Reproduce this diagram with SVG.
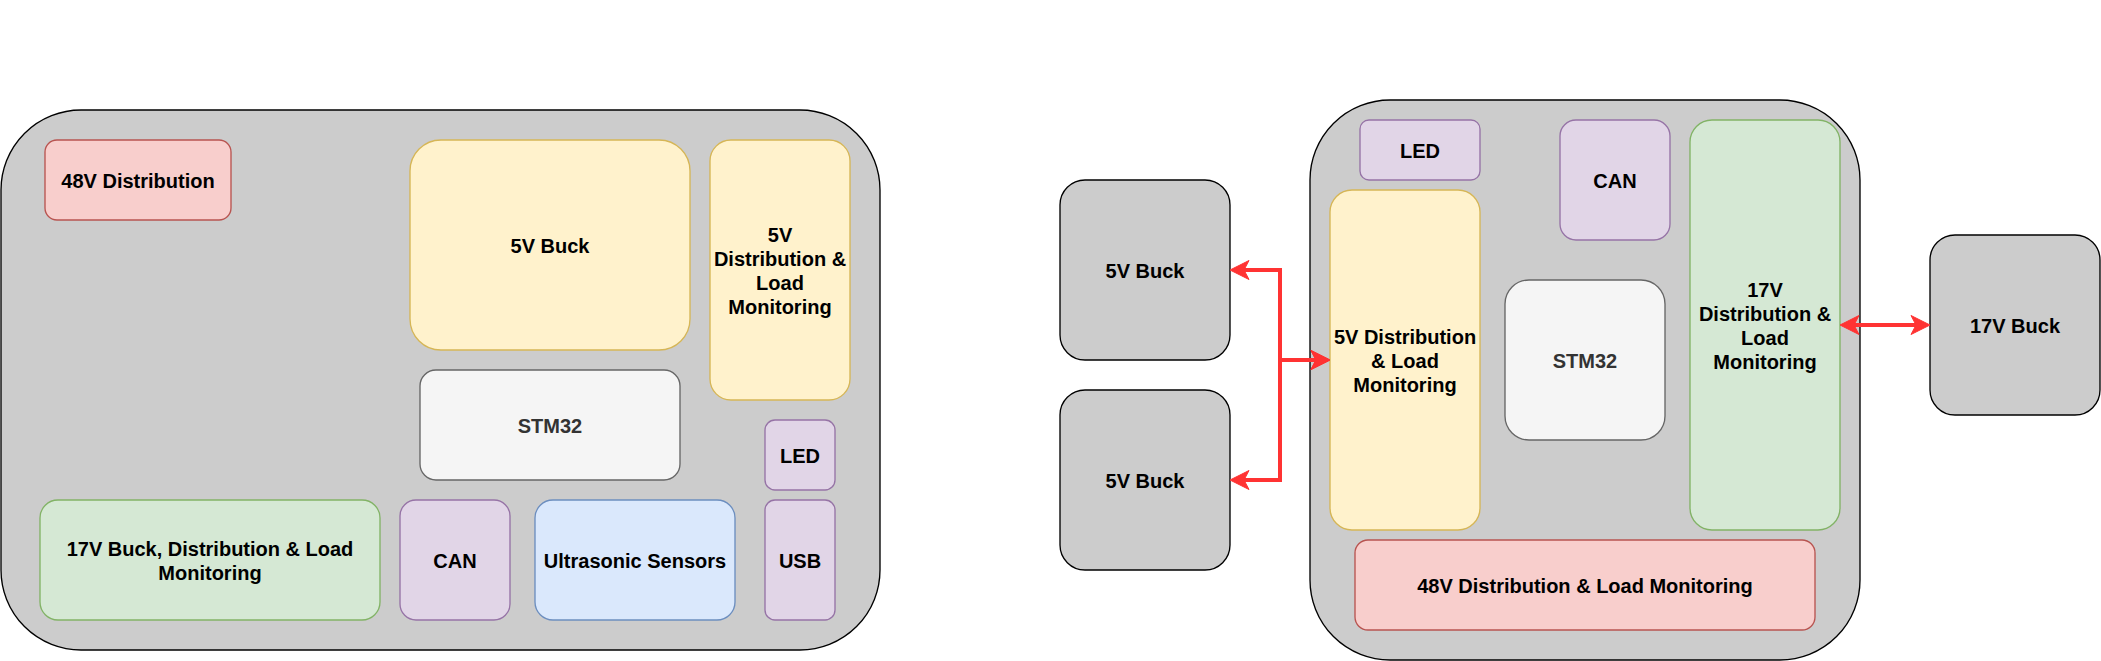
<svg xmlns="http://www.w3.org/2000/svg" width="2101" height="661" viewBox="0 0 2101 661">
<style>
rect{stroke-width:1.34}
.outer{fill:#cccccc;stroke:#000000}
.red{fill:#f8cecc;stroke:#b85450}
.yel{fill:#fff2cc;stroke:#d6b656}
.gry{fill:#f5f5f5;stroke:#666666}
.pur{fill:#e1d5e7;stroke:#9673a6}
.grn{fill:#d5e8d4;stroke:#82b366}
.blu{fill:#dae8fc;stroke:#6c8ebf}
.buck{fill:#cccccc;stroke:#000000}
text{font-family:"Liberation Sans",Arial,Helvetica,sans-serif;font-size:20px;font-weight:bold;fill:#000000;text-anchor:middle}
text.dk{fill:#333333}
.conn{fill:none;stroke:#ff3333;stroke-width:4}
</style>
<defs>
<marker id="ah" viewBox="-10 -10 21 20" markerWidth="21" markerHeight="20" refX="0" refY="0" markerUnits="userSpaceOnUse" orient="auto-start-reverse">
<path d="M10,0 L-9,-9.5 L-4,0 L-9,9.5 Z" fill="#ff3333" stroke="#ff3333" stroke-width="1"/>
</marker>
</defs>
<g id="left-board">
<rect class="outer" x="1" y="110" width="879" height="540" rx="80" ry="80"/>
</g>
<g id="l-48v"><rect class="red" x="45" y="140" width="186" height="80" rx="12"/><text x="138" y="188">48V Distribution</text></g>
<g id="l-5vbuck"><rect class="yel" x="410" y="140" width="280" height="210" rx="31"/><text x="550" y="253">5V Buck</text></g>
<g id="l-5vdist"><rect class="yel" x="710" y="140" width="140" height="260" rx="21"/><text x="780" y="242">5V</text><text x="780" y="266">Distribution &amp;</text><text x="780" y="290">Load</text><text x="780" y="314">Monitoring</text></g>
<g id="l-stm32"><rect class="gry" x="420" y="370" width="260" height="110" rx="16"/><text class="dk" x="550" y="433">STM32</text></g>
<g id="l-led"><rect class="pur" x="765" y="420" width="70" height="70" rx="10"/><text x="800" y="463">LED</text></g>
<g id="l-17v"><rect class="grn" x="40" y="500" width="340" height="120" rx="18"/><text x="210" y="556">17V Buck, Distribution &amp; Load</text><text x="210" y="580">Monitoring</text></g>
<g id="l-can"><rect class="pur" x="400" y="500" width="110" height="120" rx="16"/><text x="455" y="568">CAN</text></g>
<g id="l-ultra"><rect class="blu" x="535" y="500" width="200" height="120" rx="18"/><text x="635" y="568">Ultrasonic Sensors</text></g>
<g id="l-usb"><rect class="pur" x="765" y="500" width="70" height="120" rx="10"/><text x="800" y="568">USB</text></g>

<g id="right-board">
<rect class="outer" x="1310" y="100" width="550" height="560" rx="80" ry="80"/>
</g>
<g id="r-led"><rect class="pur" x="1360" y="120" width="120" height="60" rx="9"/><text x="1420" y="158">LED</text></g>
<g id="r-can"><rect class="pur" x="1560" y="120" width="110" height="120" rx="16"/><text x="1615" y="188">CAN</text></g>
<g id="r-5vdist"><rect class="yel" x="1330" y="190" width="150" height="340" rx="22"/><text x="1405" y="344">5V Distribution</text><text x="1405" y="368">&amp; Load</text><text x="1405" y="392">Monitoring</text></g>
<g id="r-stm32"><rect class="gry" x="1505" y="280" width="160" height="160" rx="24"/><text class="dk" x="1585" y="368">STM32</text></g>
<g id="r-17vdist"><rect class="grn" x="1690" y="120" width="150" height="410" rx="22"/><text x="1765" y="297">17V</text><text x="1765" y="321">Distribution &amp;</text><text x="1765" y="345">Load</text><text x="1765" y="369">Monitoring</text></g>
<g id="r-48v"><rect class="red" x="1355" y="540" width="460" height="90" rx="13"/><text x="1585" y="593">48V Distribution &amp; Load Monitoring</text></g>
<g id="buck5v-1"><rect class="buck" x="1060" y="180" width="170" height="180" rx="25"/><text x="1145" y="278">5V Buck</text></g>
<g id="buck5v-2"><rect class="buck" x="1060" y="390" width="170" height="180" rx="25"/><text x="1145" y="488">5V Buck</text></g>
<g id="buck17v"><rect class="buck" x="1930" y="235" width="170" height="180" rx="25"/><text x="2015" y="333">17V Buck</text></g>

<g id="connectors">
<path class="conn" d="M1320,360 H1280 V270 H1240" marker-start="url(#ah)" marker-end="url(#ah)"/>
<path class="conn" d="M1320,360 H1280 V480 H1240" marker-start="url(#ah)" marker-end="url(#ah)"/>
<path class="conn" d="M1850,325 H1920" marker-start="url(#ah)" marker-end="url(#ah)"/>
</g>
</svg>
